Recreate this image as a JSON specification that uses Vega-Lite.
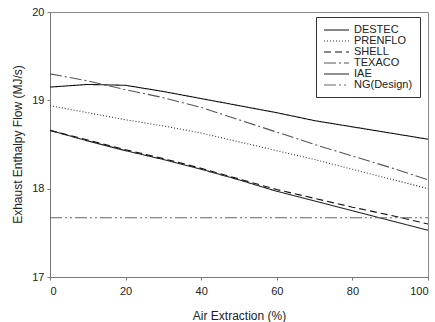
{
  "$schema": "https://vega.github.io/schema/vega-lite/v6.json",
  "width": 378,
  "height": 265,
  "autosize": {"type": "none"},
  "padding": {"left": 50, "top": 12, "right": 7, "bottom": 45},
  "background": "white",
  "config": {
    "view": {"stroke": "#8a8a8a", "strokeWidth": 1},
    "font": "Liberation Sans",
    "legend": {
      "orient": "none", "legendX": 266, "legendY": 5,
      "strokeColor": "#333", "padding": 7,
      "symbolType": "M-1,0H4", "symbolSize": 100, "symbolStrokeWidth": 1.1,
      "labelFontSize": 11, "labelColor": "#222", "labelOffset": 19, "labelAlign": "left",
      "rowPadding": 0
    }
  },
  "data": {
    "values": [
      {"s": "DESTEC", "x": 0, "y": 19.15}, {"s": "DESTEC", "x": 10, "y": 19.18}, {"s": "DESTEC", "x": 20, "y": 19.17}, {"s": "DESTEC", "x": 30, "y": 19.10}, {"s": "DESTEC", "x": 40, "y": 19.02}, {"s": "DESTEC", "x": 50, "y": 18.94}, {"s": "DESTEC", "x": 60, "y": 18.86}, {"s": "DESTEC", "x": 70, "y": 18.77}, {"s": "DESTEC", "x": 80, "y": 18.70}, {"s": "DESTEC", "x": 90, "y": 18.63}, {"s": "DESTEC", "x": 100, "y": 18.56},
      {"s": "PRENFLO", "x": 0, "y": 18.94}, {"s": "PRENFLO", "x": 10, "y": 18.86}, {"s": "PRENFLO", "x": 20, "y": 18.78}, {"s": "PRENFLO", "x": 30, "y": 18.71}, {"s": "PRENFLO", "x": 40, "y": 18.63}, {"s": "PRENFLO", "x": 50, "y": 18.53}, {"s": "PRENFLO", "x": 60, "y": 18.43}, {"s": "PRENFLO", "x": 70, "y": 18.33}, {"s": "PRENFLO", "x": 80, "y": 18.22}, {"s": "PRENFLO", "x": 90, "y": 18.11}, {"s": "PRENFLO", "x": 100, "y": 18.00},
      {"s": "SHELL", "x": 0, "y": 18.66}, {"s": "SHELL", "x": 10, "y": 18.55}, {"s": "SHELL", "x": 20, "y": 18.44}, {"s": "SHELL", "x": 30, "y": 18.34}, {"s": "SHELL", "x": 40, "y": 18.23}, {"s": "SHELL", "x": 50, "y": 18.11}, {"s": "SHELL", "x": 60, "y": 17.99}, {"s": "SHELL", "x": 70, "y": 17.89}, {"s": "SHELL", "x": 80, "y": 17.79}, {"s": "SHELL", "x": 90, "y": 17.70}, {"s": "SHELL", "x": 100, "y": 17.60},
      {"s": "TEXACO", "x": 0, "y": 19.30}, {"s": "TEXACO", "x": 10, "y": 19.22}, {"s": "TEXACO", "x": 20, "y": 19.12}, {"s": "TEXACO", "x": 30, "y": 19.03}, {"s": "TEXACO", "x": 40, "y": 18.92}, {"s": "TEXACO", "x": 50, "y": 18.78}, {"s": "TEXACO", "x": 60, "y": 18.64}, {"s": "TEXACO", "x": 70, "y": 18.50}, {"s": "TEXACO", "x": 80, "y": 18.37}, {"s": "TEXACO", "x": 90, "y": 18.24}, {"s": "TEXACO", "x": 100, "y": 18.10},
      {"s": "IAE", "x": 0, "y": 18.66}, {"s": "IAE", "x": 10, "y": 18.54}, {"s": "IAE", "x": 20, "y": 18.43}, {"s": "IAE", "x": 30, "y": 18.33}, {"s": "IAE", "x": 40, "y": 18.22}, {"s": "IAE", "x": 50, "y": 18.10}, {"s": "IAE", "x": 60, "y": 17.97}, {"s": "IAE", "x": 70, "y": 17.86}, {"s": "IAE", "x": 80, "y": 17.75}, {"s": "IAE", "x": 90, "y": 17.64}, {"s": "IAE", "x": 100, "y": 17.53},
      {"s": "NG(Design)", "x": 0, "y": 17.67}, {"s": "NG(Design)", "x": 50, "y": 17.67}, {"s": "NG(Design)", "x": 100, "y": 17.67}
    ]
  },
  "mark": {"type": "line", "strokeWidth": 1.1, "clip": true},
  "encoding": {
    "x": {
      "field": "x", "type": "quantitative",
      "scale": {"domain": [0, 100], "nice": false},
      "axis": {
        "values": [0, 20, 40, 60, 80, 100],
        "title": "Air Extraction (%)",
        "grid": false,
        "domainColor": "#777", "tickColor": "#777", "tickSize": 3,
        "labelFontSize": 11, "labelColor": "#222", "labelPadding": 5,
        "titleFontSize": 12, "titleFontWeight": "normal", "titleColor": "#222",
        "titleY": 38, "titleBaseline": "middle"
      }
    },
    "y": {
      "field": "y", "type": "quantitative",
      "scale": {"domain": [17, 20], "nice": false, "zero": false},
      "axis": {
        "values": [17, 18, 19, 20],
        "title": "Exhaust Enthalpy Flow (MJ/s)",
        "grid": false,
        "domainColor": "#777", "tickColor": "#777", "tickSize": 3,
        "labelFontSize": 11, "labelColor": "#222", "labelPadding": 3,
        "titleFontSize": 12, "titleFontWeight": "normal", "titleColor": "#222",
        "titleX": -33, "titleY": 132, "titleAngle": -90, "titleAlign": "center", "titleBaseline": "middle"
      }
    },
    "color": {
      "field": "s", "type": "nominal",
      "scale": {
        "domain": ["DESTEC", "PRENFLO", "SHELL", "TEXACO", "IAE", "NG(Design)"],
        "range": ["#111111", "#333333", "#111111", "#555555", "#222222", "#666666"]
      },
      "legend": {"title": null}
    },
    "strokeDash": {
      "field": "s", "type": "nominal",
      "scale": {
        "domain": ["DESTEC", "PRENFLO", "SHELL", "TEXACO", "IAE", "NG(Design)"],
        "range": [[1, 0], [1, 2], [7, 4], [12, 3, 2, 3], [1, 0], [12, 3, 2, 3, 2, 3]]
      },
      "legend": {"title": null}
    }
  }
}
